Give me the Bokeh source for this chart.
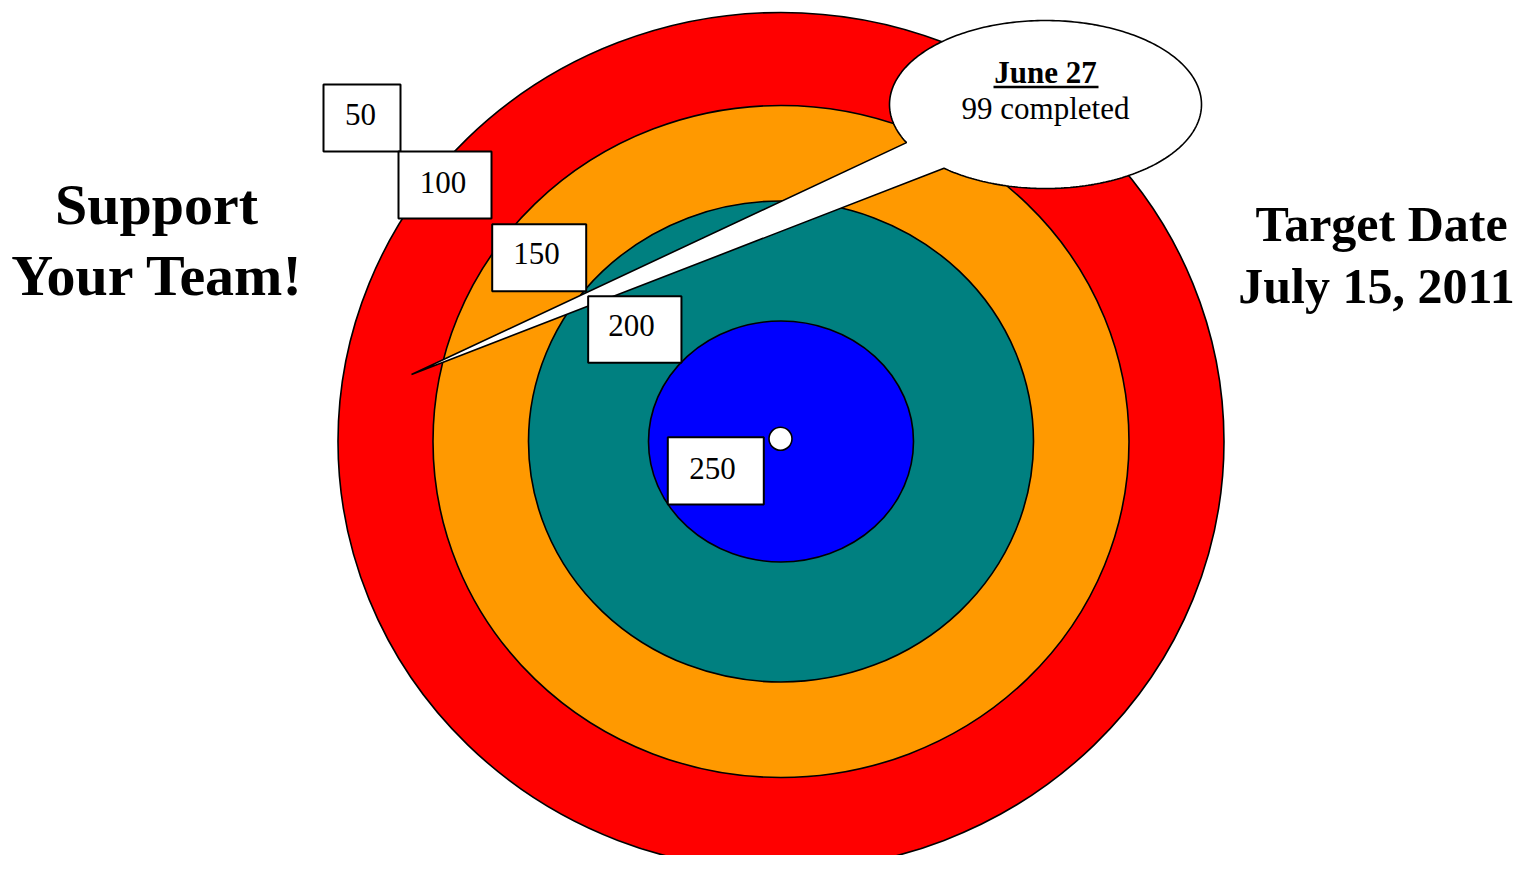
import numpy as np
from bokeh.plotting import figure
from bokeh.models import Range1d, ColumnDataSource
from bokeh.core.properties import value
from bokeh.embed import file_html
from bokeh.resources import INLINE

# ---------------- data ----------------
ring_labels = ["50", "100", "150", "200", "250"]
ring_colors = ["#FF0000", "#FF9900", "#008080", "#0000FF"]
completed = 99
status_date = "June 27"
target_date = "July 15, 2011"
slogan = ["Support", "Your Team!"]

# ---------------- layout (reference pixel coords, y downward) ----------------
H = 871
def Y(v):
    return H - np.asarray(v, dtype=float)

# the renderer places alphabetic text a bit lower; compensate (fraction of font size)
BL = 0.33
def TB(v, fs):
    return Y(np.asarray(v, dtype=float) - BL * fs)

cx, cy = 780.5, 441.0
ring_w = [886, 696, 505, 265]
ring_h = [858, 672, 481, 241]

box_x = [361.5, 444.5, 538.7, 634.3, 715.3]
box_y = [117.5, 184.5, 257.3, 329.0, 470.3]
box_w = [77, 93, 94, 93.3, 96]
box_h = [67, 67, 67, 66.7, 67.3]
lab_x = [360, 442.5, 536, 631, 712]
lab_base = [124, 192, 263, 335, 478]

FONT = value("Liberation Serif")

p = figure(width=1517, height=855, x_range=Range1d(0, 1517), y_range=Range1d(16, 871),
           x_axis_type=None, y_axis_type=None, toolbar_location=None,
           output_backend="svg", min_border=0)
p.grid.visible = False
p.outline_line_color = None
p.background_fill_color = "white"
p.border_fill_color = "white"

# rings
rings = ColumnDataSource(dict(x=[cx] * 4, y=list(Y([cy] * 4)), w=ring_w, h=ring_h, c=ring_colors))
p.ellipse(x="x", y="y", width="w", height="h", fill_color="c", line_color="black",
          line_width=1.6, source=rings)

# callout bubble (ellipse + pointer as one shape)
ecx, ecy, ea, eb = 1045.0, 104.0, 156.0, 84.0
tip = (411.0, 374.0)
t = np.deg2rad(np.linspace(153.0, 130.6 + 360.0, 300))
bx = list(ecx + ea * np.cos(t)) + [tip[0]]
by = list(ecy + eb * np.sin(t)) + [tip[1]]
p.patch(bx, list(Y(by)), fill_color="white", line_color="black", line_width=1.6)

# label boxes
boxes = ColumnDataSource(dict(x=box_x, y=list(Y(box_y)), w=box_w, h=box_h))
p.rect(x="x", y="y", width="w", height="h", fill_color="white", line_color="black",
       line_width=2, source=boxes)
labs = ColumnDataSource(dict(x=lab_x, y=list(TB(lab_base, 31)), t=ring_labels))
p.text(x="x", y="y", text="t", source=labs, text_font=FONT, text_font_size="31px",
       text_align="center", text_baseline="alphabetic", text_color="black")

# bullseye dot
p.scatter([780.0], list(Y([438.3])), size=23, marker="circle", fill_color="white",
          line_color="black", line_width=1.6)

# callout text
p.text([1045.0], list(TB([82.0], 31)), text=[status_date], text_font=FONT, text_font_size="31px",
       text_font_style="bold", text_align="center", text_baseline="alphabetic")
p.segment([993.0], list(Y([86.5])), [1098.0], list(Y([86.5])), line_color="black", line_width=2.5)
p.text([1045.0], list(TB([118.0], 31)), text=[f"{completed} completed"], text_font=FONT,
       text_font_size="31px", text_align="center", text_baseline="alphabetic")

# side texts
p.text([156.0, 157.0], list(TB([223.0, 294.0], 58)), text=slogan, text_font=FONT,
       text_font_size="58px", text_font_style="bold", text_align="center",
       text_baseline="alphabetic")
p.text([1381.0, 1376.0], list(TB([240.0, 302.0], 50)), text=["Target Date", target_date],
       text_font=FONT, text_font_size="50px", text_font_style="bold", text_align="center",
       text_baseline="alphabetic")

open("out.html", "w").write(file_html(p, INLINE))
